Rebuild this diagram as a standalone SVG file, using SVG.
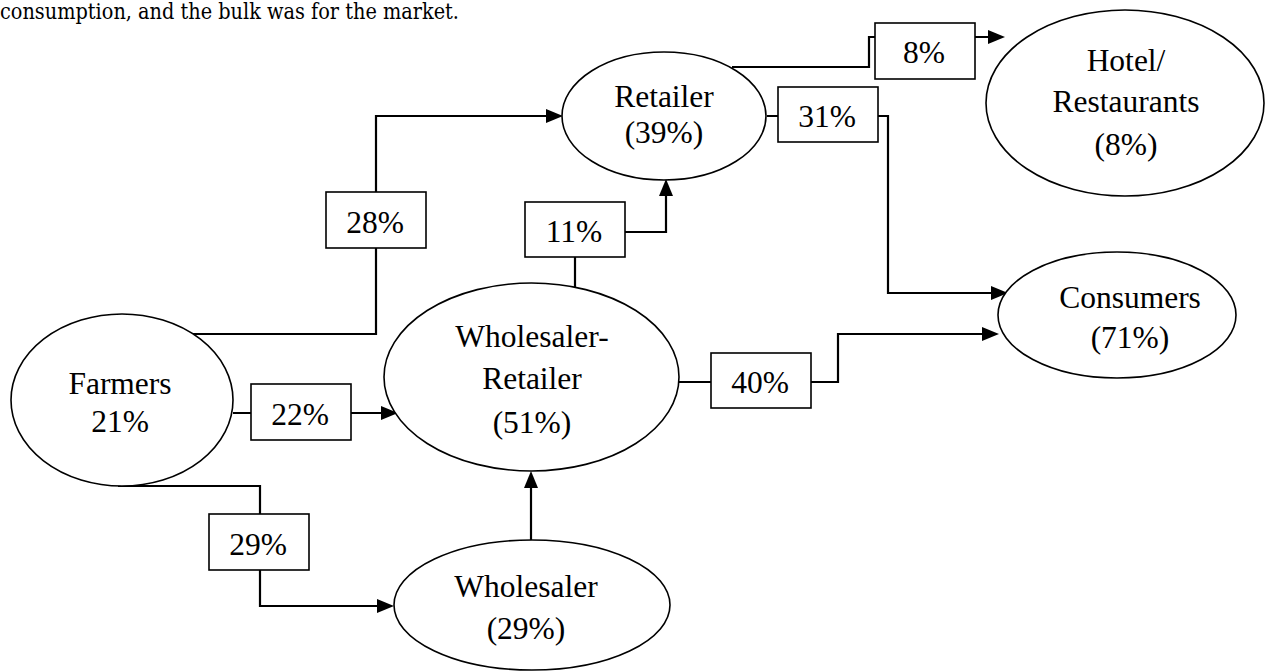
<svg xmlns="http://www.w3.org/2000/svg" width="1268" height="671" viewBox="0 0 1268 671">
<style>
.node{fill:#fff;stroke:#000;stroke-width:1.6}
.lbl{fill:#fff;stroke:#000;stroke-width:1.6}
.t{font-family:"Liberation Serif","Times New Roman",serif;font-size:31.5px;fill:#000;text-anchor:middle}
.cap{font-family:"DejaVu Serif",serif;font-size:22px;fill:#000}
.c{fill:none;stroke:#000;stroke-width:2.2;marker-end:url(#arr)}
</style>
<defs>
<marker id="arr" markerWidth="17" markerHeight="14" refX="8" refY="7" orient="auto" markerUnits="userSpaceOnUse">
<path d="M0,0 L17,7 L0,14 Z" fill="#000"/>
</marker>
</defs>
<rect width="1268" height="671" fill="#fff"/>
<text class="cap" x="0" y="18.5" textLength="459" lengthAdjust="spacingAndGlyphs">consumption, and the bulk was for the market.</text>
<g id="connectors">
<path class="c" d="M189,334 H376 V116 H554"/>
<path class="c" d="M233,413 H389"/>
<path class="c" d="M118,486 H260 V606 H385"/>
<path class="c" d="M531,540 V480"/>
<path class="c" d="M575,287 V232 H666 V188"/>
<path class="c" d="M679,382 H838 V334 H990"/>
<path class="c" d="M767,116 H888 V293 H999"/>
<path class="c" d="M732,67 H869 V37 H996"/>
</g>
<g id="labels">
<g id="l28"><rect class="lbl" x="326" y="192" width="100" height="56"/><text class="t" x="375" y="233">28%</text></g>
<g id="l22"><rect class="lbl" x="251" y="384" width="100" height="56"/><text class="t" x="300" y="425">22%</text></g>
<g id="l29"><rect class="lbl" x="209" y="514" width="100" height="56"/><text class="t" x="258" y="555">29%</text></g>
<g id="l11"><rect class="lbl" x="525" y="202" width="100" height="55"/><text class="t" x="574" y="242">11%</text></g>
<g id="l40"><rect class="lbl" x="711" y="353" width="100" height="55"/><text class="t" x="760" y="393">40%</text></g>
<g id="l31"><rect class="lbl" x="778" y="87" width="100" height="55"/><text class="t" x="827" y="127">31%</text></g>
<g id="l8"><rect class="lbl" x="875" y="23" width="100" height="56"/><text class="t" x="924" y="63">8%</text></g>
</g>
<g id="farmers"><ellipse class="node" cx="122" cy="400" rx="111" ry="86"/><text class="t" x="120" y="394">Farmers</text><text class="t" x="120" y="432">21%</text></g>
<g id="retailer"><ellipse class="node" cx="664" cy="116" rx="102" ry="64"/><text class="t" x="664" y="107">Retailer</text><text class="t" x="664" y="143">(39%)</text></g>
<g id="hotel"><ellipse class="node" cx="1125" cy="103" rx="139" ry="93"/><text class="t" x="1126" y="71">Hotel/</text><text class="t" x="1126" y="112">Restaurants</text><text class="t" x="1126" y="155">(8%)</text></g>
<g id="wholesaler-retailer"><ellipse class="node" cx="531.5" cy="377" rx="147.5" ry="94"/><text class="t" x="532" y="347">Wholesaler-</text><text class="t" x="532" y="389">Retailer</text><text class="t" x="532" y="433">(51%)</text></g>
<g id="consumers"><ellipse class="node" cx="1117" cy="315" rx="119" ry="63"/><text class="t" x="1130" y="308">Consumers</text><text class="t" x="1130" y="348">(71%)</text></g>
<g id="wholesaler"><ellipse class="node" cx="532" cy="605" rx="138" ry="65"/><text class="t" x="526" y="597">Wholesaler</text><text class="t" x="526" y="639">(29%)</text></g>
</svg>
